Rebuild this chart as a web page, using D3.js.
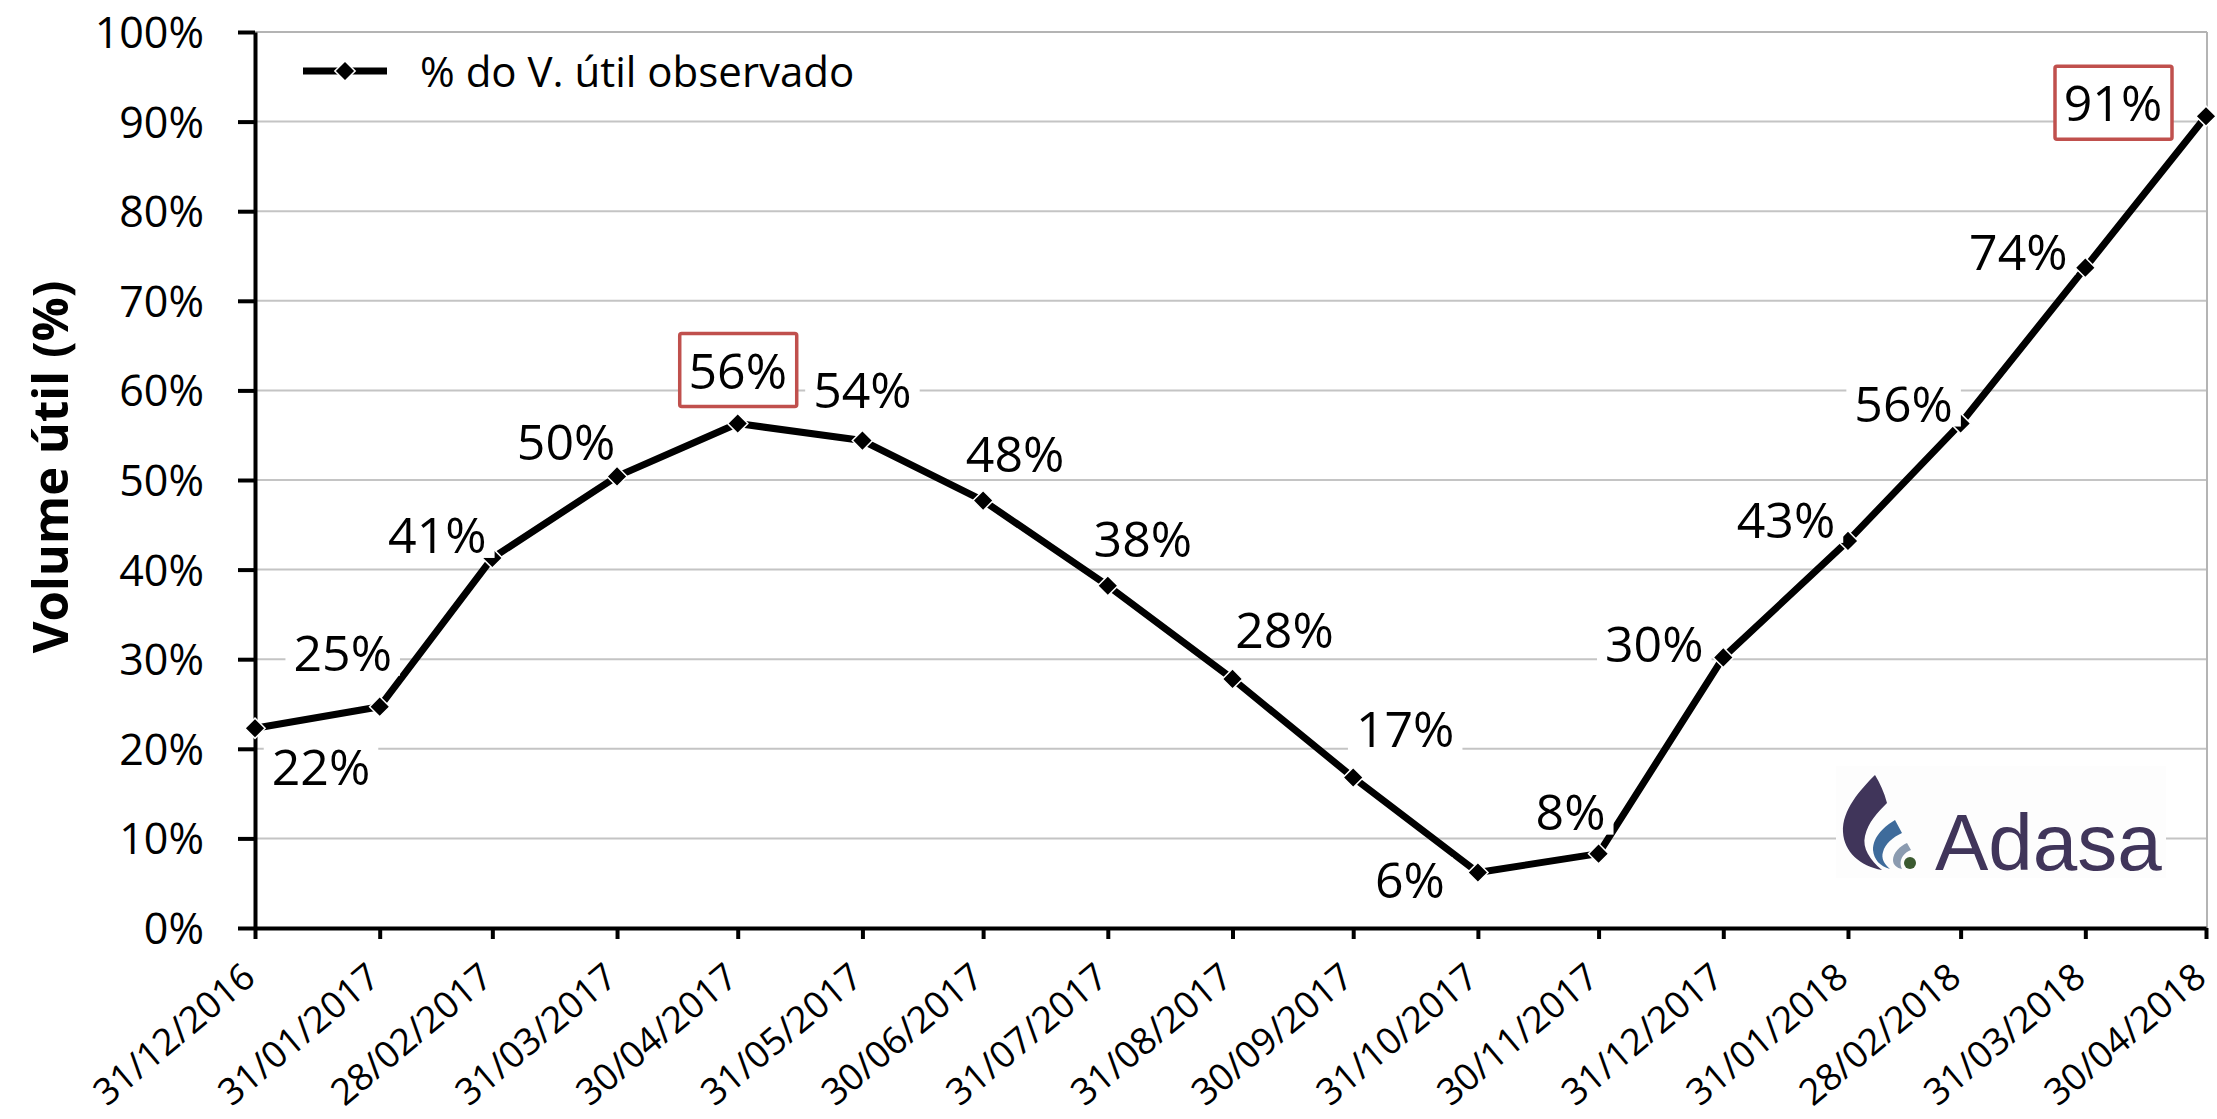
<!DOCTYPE html>
<html>
<head>
<meta charset="utf-8">
<script src="https://cdn.jsdelivr.net/npm/d3@7"></script>
<style>
  html, body { margin: 0; padding: 0; background: #ffffff; }
  svg { display: block; }
</style>
</head>
<body>
<svg id="chart" width="2217" height="1119"></svg>
<script>
// Observed useful volume of the reservoir, end of each month
const dates = [
  "31/12/2016", "31/01/2017", "28/02/2017", "31/03/2017", "30/04/2017", "31/05/2017",
  "30/06/2017", "31/07/2017", "31/08/2017", "30/09/2017", "31/10/2017", "30/11/2017",
  "31/12/2017", "31/01/2018", "28/02/2018", "31/03/2018", "30/04/2018"
];
const volumePct = [22.3, 24.7, 41.3, 50.4, 56.3, 54.4, 47.7, 38.2, 27.8, 16.8, 6.2, 8.3, 30.2, 43.2, 56.3, 73.7, 90.6];
const yTicks = [0, 10, 20, 30, 40, 50, 60, 70, 80, 90, 100];
const highlightedDates = ["30/04/2017", "30/04/2018"];
const seriesName = "% do V. útil observado";
const axisTitle = "Volume útil (%)";
const brandName = "Adasa";

// Where each value label sits relative to its point (label centre, px)
const labelOffsets = [
  [66, 39], [-37, -54], [-55, -23], [-51, -34], [0, -53], [0, -51],
  [32, -47], [35, -47], [52, -49], [52, -48], [-68, 8], [-28, -42],
  [-69, -13], [-62, -21], [-57, -20], [-67, -16], [-93, -13]
];

const parseDate = d3.utcParse("%d/%m/%Y");
const formatDate = d3.utcFormat("%d/%m/%Y");
const points = dates.map((d, i) => ({ key: d, date: parseDate(d), value: volumePct[i], offset: labelOffsets[i] }));

const svg = d3.select("#chart");
const plotLeft = 255, plotRight = 2206, plotTop = 32, plotBottom = 928;

const x = d3.scaleUtc()
  .domain([points[0].date, points[points.length - 1].date])
  .range([plotLeft, plotRight]);
const y = d3.scaleLinear().domain([0, 100]).range([plotBottom, plotTop]);

const FONT = "'Open Sans', 'Noto Sans', sans-serif";

// gridlines
svg.append("g")
  .selectAll("line")
  .data(yTicks.filter(t => t > 0))
  .join("line")
  .attr("x1", plotLeft).attr("x2", plotRight + 1)
  .attr("y1", d => y(d)).attr("y2", d => y(d))
  .attr("stroke", "#c4c4c4")
  .attr("stroke-width", 2);

// plot-area frame (top and right)
svg.append("line")
  .attr("x1", plotRight + 1).attr("x2", plotRight + 1)
  .attr("y1", plotTop).attr("y2", plotBottom)
  .attr("stroke", "#b4b4b4").attr("stroke-width", 2);
svg.append("line")
  .attr("x1", plotLeft).attr("x2", plotRight + 1)
  .attr("y1", plotTop).attr("y2", plotTop)
  .attr("stroke", "#b4b4b4").attr("stroke-width", 2);

// logo with its white backing
const logo = svg.append("g").attr("transform", "translate(1840,770)");
logo.append("rect").attr("x", -4).attr("y", -4).attr("width", 330).attr("height", 112).attr("fill", "#fdfdfd");
logo.append("path")
  .attr("d", "M35,5 C20,20 2,40 3,62 C4,82 20,96 42,100 C30,90 22,78 25,66 C28,52 38,42 47,33 C44,22 40,13 35,5 Z")
  .attr("fill", "#40355a");
logo.append("path")
  .attr("d", "M55,50 C45,56 33,66 33,80 C34,90 40,96 50,99 C44,94 41,88 43,82 C45,74 53,67 62,63 Z")
  .attr("fill", "#3e6b9b");
logo.append("path")
  .attr("d", "M67,73 C60,76 53,83 53,90 C53,95 57,98 62,99 C60,95 60,90 63,86 C65,83 68,81 71,80 Z")
  .attr("fill", "#8b9bb0");
logo.append("circle").attr("cx", 70).attr("cy", 93).attr("r", 6).attr("fill", "#3b5a30");
logo.append("text")
  .attr("x", 95).attr("y", 100)
  .attr("font-family", "'Liberation Sans', Arial, sans-serif")
  .attr("font-size", 80)
  .attr("fill", "#40355a")
  .text(brandName);

// axes
const yAxis = svg.append("g")
  .attr("transform", `translate(${plotLeft},0)`)
  .call(d3.axisLeft(y).tickValues(yTicks).tickFormat(d => d + "%").tickSize(17).tickPadding(34).tickSizeOuter(0));
yAxis.select(".domain").attr("stroke", "#000").attr("stroke-width", 4);
yAxis.selectAll(".tick line").attr("stroke", "#000").attr("stroke-width", 4);
yAxis.selectAll(".tick text")
  .attr("font-family", FONT).attr("font-size", 43).attr("fill", "#000")
  .attr("dy", "0.36em");

const xAxis = svg.append("g")
  .attr("transform", `translate(0,${plotBottom})`)
  .call(d3.axisBottom(x).tickValues(points.map(p => p.date)).tickFormat(formatDate).tickSize(11).tickSizeOuter(0));
xAxis.select(".domain").attr("stroke", "#000").attr("stroke-width", 4);
xAxis.selectAll(".tick line").attr("stroke", "#000").attr("stroke-width", 4);
xAxis.selectAll(".tick text")
  .attr("font-family", FONT).attr("font-size", 37).attr("fill", "#000")
  .attr("text-anchor", "end")
  .attr("x", 0).attr("y", 0).attr("dy", 0)
  .attr("transform", "translate(2,53) rotate(-40)");

// axis title
svg.append("text")
  .attr("transform", "translate(68,467) rotate(-90)")
  .attr("text-anchor", "middle")
  .attr("font-family", FONT).attr("font-weight", 700).attr("font-size", 49)
  .attr("fill", "#000")
  .text(axisTitle);

// series line
const line = d3.line().x(d => x(d.date)).y(d => y(d.value));
svg.append("path")
  .datum(points)
  .attr("d", line)
  .attr("fill", "none")
  .attr("stroke", "#000")
  .attr("stroke-width", 7)
  .attr("stroke-linejoin", "round");

// diamond markers
const marker = d3.symbol().type(d3.symbolSquare).size(205);
svg.append("g")
  .selectAll("path")
  .data(points)
  .join("path")
  .attr("d", marker)
  .attr("transform", d => `translate(${x(d.date)},${y(d.value)}) rotate(45)`)
  .attr("fill", "#000")
  .attr("stroke", "#fff")
  .attr("stroke-width", 1.5);

// value labels
const fmt = v => Math.round(v) + "%";
const labels = svg.append("g")
  .selectAll("g")
  .data(points)
  .join("g")
  .attr("transform", d => `translate(${x(d.date) + d.offset[0]},${y(d.value) + d.offset[1]})`);
labels.each(function (d) {
  const g = d3.select(this);
  const boxed = highlightedDates.includes(d.key);
  const bg = g.append("rect");
  const t = g.append("text")
    .attr("text-anchor", "middle")
    .attr("dy", "0.36em")
    .attr("font-family", FONT).attr("font-size", 50)
    .attr("fill", "#000")
    .text(fmt(d.value));
  const w = t.node().getComputedTextLength();
  if (boxed) {
    bg.attr("x", -58).attr("y", -37).attr("width", 117).attr("height", 73)
      .attr("fill", "#fff").attr("stroke", "#c0504d").attr("stroke-width", 3.5).attr("rx", 2);
  } else {
    bg.attr("x", -w / 2 - 8).attr("y", -23).attr("width", w + 16).attr("height", 46)
      .attr("fill", "#fff");
  }
});

// legend
const legend = svg.append("g").attr("transform", "translate(303,71)");
legend.append("line").attr("x1", 0).attr("x2", 84).attr("y1", 0).attr("y2", 0)
  .attr("stroke", "#000").attr("stroke-width", 7);
legend.append("path").attr("d", marker).attr("transform", "translate(42,0) rotate(45)")
  .attr("fill", "#000").attr("stroke", "#fff").attr("stroke-width", 1.5);
legend.append("text")
  .attr("x", 117).attr("y", 16)
  .attr("font-family", FONT).attr("font-size", 42).attr("fill", "#000")
  .text(seriesName);
</script>
</body>
</html>
